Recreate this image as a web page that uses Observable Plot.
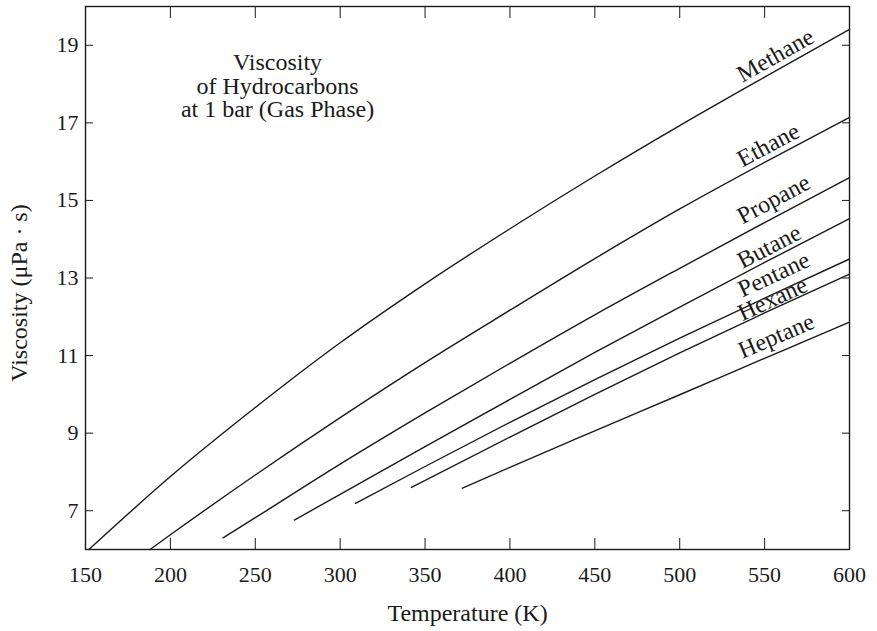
<!DOCTYPE html>
<html>
<head>
<meta charset="utf-8">
<script src="https://cdn.jsdelivr.net/npm/d3@7"></script>
<script src="https://cdn.jsdelivr.net/npm/@observablehq/plot@0.6"></script>
<style>
  html, body { margin: 0; padding: 0; background: #fff; }
  #chart svg { display: block; }
</style>
</head>
<body>
<div id="chart"></div>
<script>
// ---- Data ----
const methaneT = [152, 200, 250, 300, 350, 400, 450, 500, 550, 600];
const methaneV = [6.0, 7.88, 9.66, 11.33, 12.85, 14.27, 15.63, 16.93, 18.18, 19.41];
const ethaneT  = [188, 200, 250, 300, 350, 400, 450, 500, 550, 600];
const ethaneV  = [6.0, 6.38, 7.92, 9.4, 10.82, 12.17, 13.5, 14.78, 15.98, 17.14];
const propaneT = [231, 250, 300, 350, 400, 450, 500, 550, 600];
const propaneV = [6.3, 6.82, 8.2, 9.52, 10.8, 12.05, 13.25, 14.43, 15.59];
const butaneT  = [273, 300, 350, 400, 450, 500, 550, 600];
const butaneV  = [6.76, 7.42, 8.65, 9.87, 11.08, 12.25, 13.4, 14.53];
const pentaneT = [309, 350, 400, 450, 500, 550, 600];
const pentaneV = [7.19, 8.14, 9.28, 10.38, 11.45, 12.48, 13.49];
const hexaneT  = [342, 400, 450, 500, 550, 600];
const hexaneV  = [7.6, 8.9, 10.0, 11.07, 12.1, 13.1];
const heptaneT = [372, 400, 450, 500, 550, 600];
const heptaneV = [7.58, 8.12, 9.06, 9.99, 10.93, 11.86];

const seriesNames = ["Methane", "Ethane", "Propane", "Butane", "Pentane", "Hexane", "Heptane"];
const seriesT = [methaneT, ethaneT, propaneT, butaneT, pentaneT, hexaneT, heptaneT];
const seriesV = [methaneV, ethaneV, propaneV, butaneV, pentaneV, hexaneV, heptaneV];

const xTicks = [150, 200, 250, 300, 350, 400, 450, 500, 550, 600];
const yTicks = [7, 9, 11, 13, 15, 17, 19];
const xDomain = [150, 600];
const yDomain = [6, 20];

const titleText = "Viscosity\nof Hydrocarbons\nat 1 bar (Gas Phase)";
const xLabel = "Temperature (K)";
const yLabel = "Viscosity (\u03BCPa \u00B7 s)";

// ---- Layout ----
const W = 877, H = 631;
const mL = 85, mR = 28, mT = 6, mB = 82;
const FONT = "'Liberation Serif', 'Times New Roman', serif";
const INK = "#1a1a1a";

// long-form table for the lines
const rows = [];
seriesNames.forEach((name, i) => {
  seriesT[i].forEach((t, j) => rows.push({name, T: t, V: seriesV[i][j]}));
});

// label placement along each curve (layout, not data)
const labelT = 537;
const labelLift = [7, 7, 10, 5, 11, 2, 9]; // px above the curve
const interp = (ts, vs, t) => {
  for (let j = 1; j < ts.length; j++) {
    if (t <= ts[j]) {
      const f = (t - ts[j - 1]) / (ts[j] - ts[j - 1]);
      return vs[j - 1] + f * (vs[j] - vs[j - 1]);
    }
  }
  return vs[vs.length - 1];
};
const pxPerT = (W - mL - mR) / (xDomain[1] - xDomain[0]);
const pxPerV = (H - mT - mB) / (yDomain[1] - yDomain[0]);
const labels = seriesNames.map((name, i) => {
  const v = interp(seriesT[i], seriesV[i], labelT);
  const slope = (interp(seriesT[i], seriesV[i], 590) - interp(seriesT[i], seriesV[i], 537)) / 53;
  const angle = -Math.atan(slope * pxPerV / pxPerT) * 180 / Math.PI;
  return {name, T: labelT, V: v, angle, lift: -labelLift[i]};
});

const chart = Plot.plot({
  width: W,
  height: H,
  marginLeft: mL,
  marginRight: mR,
  marginTop: mT,
  marginBottom: mB,
  style: {fontFamily: FONT, fontSize: "22px", color: INK, background: "#fff"},
  x: {domain: xDomain, ticks: xTicks, label: null},
  y: {domain: yDomain, ticks: yTicks, label: null},
  marks: [
    Plot.frame({stroke: INK, strokeWidth: 1.4}),
    // inward ticks on all four sides
    Plot.axisX(xTicks, {anchor: "bottom", tickSize: -11, text: null, stroke: INK}),
    Plot.axisX(xTicks, {anchor: "top", tickSize: -11, text: null, stroke: INK}),
    Plot.axisY(yTicks, {anchor: "left", tickSize: -8, text: null, stroke: INK}),
    Plot.axisY(yTicks, {anchor: "right", tickSize: -8, text: null, stroke: INK}),
    // tick labels
    Plot.axisX(xTicks, {anchor: "bottom", tickSize: 0, tickPadding: 17, fontSize: 22, fill: INK, label: null}),
    Plot.axisY(yTicks, {anchor: "left", tickSize: 0, tickPadding: 7, fontSize: 22, fill: INK, label: null}),
    // curves
    Plot.line(rows, {x: "T", y: "V", z: "name", curve: "monotone-x", stroke: INK, strokeWidth: 1.4}),
    // curve labels, one per curve, lifted individually
    ...labels.map(l => Plot.text([l], {x: "T", y: "V", text: "name", rotate: "angle", textAnchor: "start", lineAnchor: "bottom", dy: l.lift, fontSize: 24, fill: INK})),
    // title
    Plot.text([titleText], {frameAnchor: "top-left", dx: 192, dy: 47, textAnchor: "middle", lineAnchor: "top", lineHeight: 0.98, fontSize: 24, fill: INK}),
    // axis labels
    Plot.text([xLabel], {frameAnchor: "bottom", dy: 64, textAnchor: "middle", lineAnchor: "middle", fontSize: 24, fill: INK}),
    Plot.text([yLabel], {frameAnchor: "left", dx: -66, dy: 15, rotate: -90, textAnchor: "middle", lineAnchor: "middle", fontSize: 24, fill: INK})
  ]
});
document.getElementById("chart").appendChild(chart);
</script>
</body>
</html>
